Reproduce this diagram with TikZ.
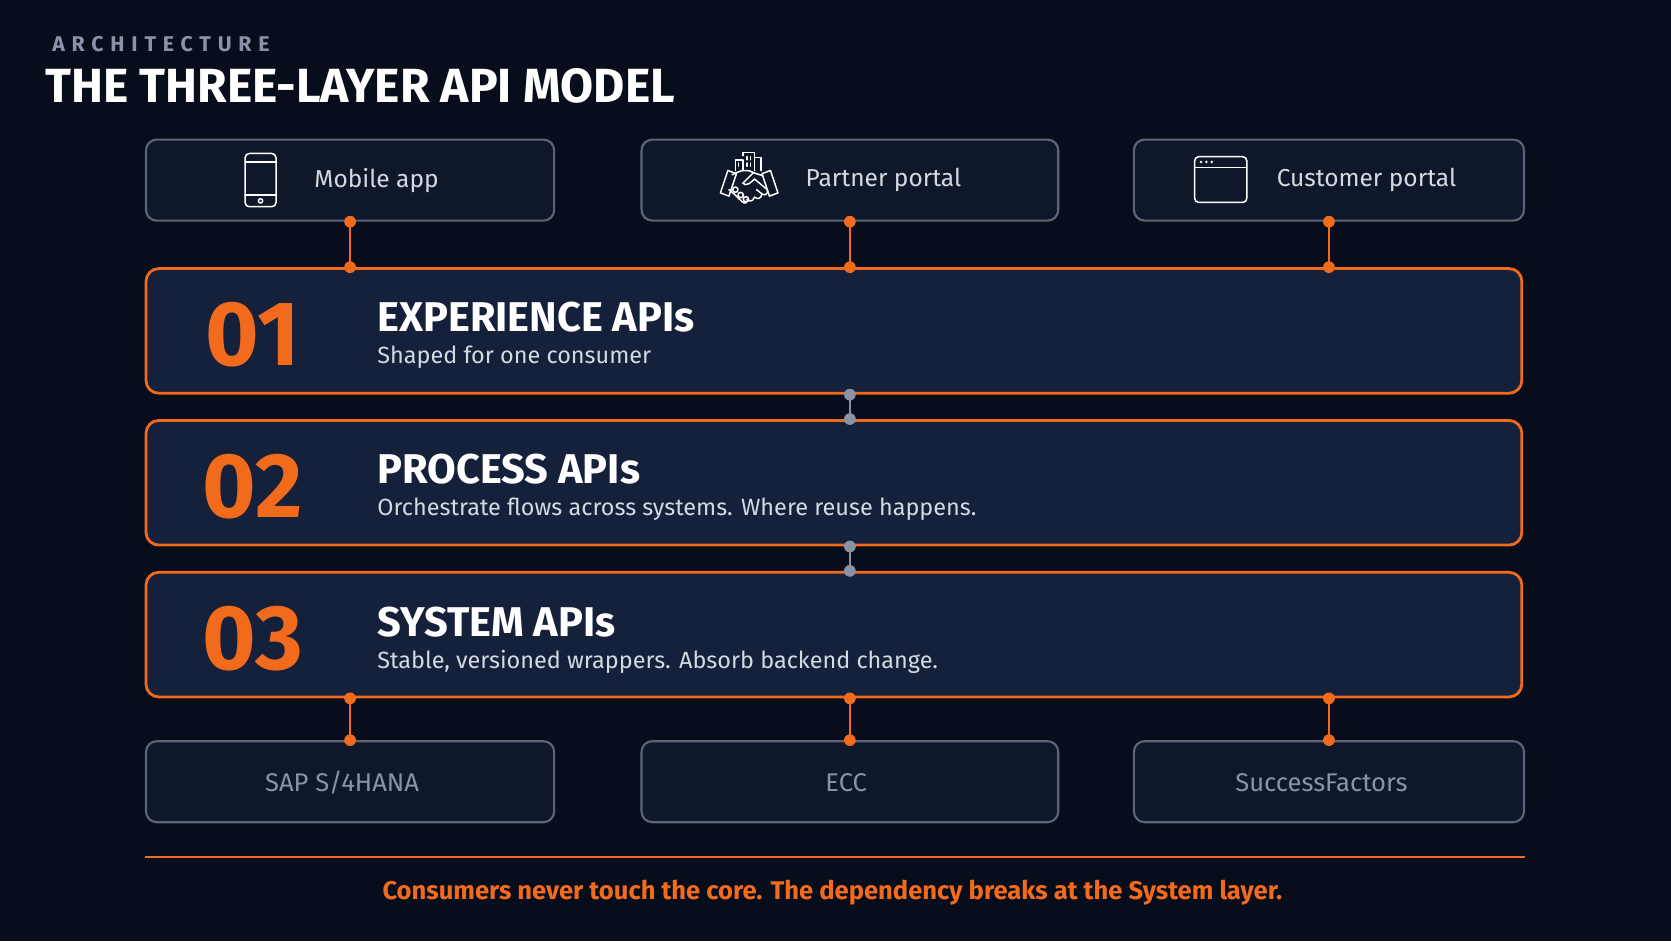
\documentclass[tikz,border=0pt]{standalone}
\usepackage{fontspec}
\setmainfont{Fira Sans}
\usetikzlibrary{calc}
\definecolor{bgc}{HTML}{070D1A}
\definecolor{boxf}{HTML}{0F182A}
\definecolor{layf}{HTML}{15203A}
\definecolor{bord}{HTML}{5C6577}
\definecolor{org}{HTML}{F26A1B}
\definecolor{gdot}{HTML}{8A93A3}
\definecolor{txtg}{HTML}{D5DAE2}
\definecolor{subg}{HTML}{8A93A8}
\tikzset{
 src/.style={draw=bord,line width=1pt,fill=boxf,rounded corners=5pt,minimum height=38pt,inner sep=0},
 layer/.style={draw=org,line width=1.3pt,fill=layf,rounded corners=6pt,minimum width=645.5pt,minimum height=58.5pt,inner sep=0},
 lbl/.style={text=txtg,font=\fontsize{11.5}{13}\selectfont,anchor=west},
 blbl/.style={text=subg,font=\fontsize{12}{14}\selectfont},
 num/.style={text=org,font=\bfseries\fontsize{43}{46}\selectfont,anchor=base},
 ltitle/.style={text=white,font=\bfseries\fontsize{19.5}{22}\selectfont,anchor=base west},
 lsub/.style={text=txtg,font=\fontsize{11}{13}\selectfont,anchor=base west},
 oconn/.style={draw=org,line width=1.2pt},
 gconn/.style={draw=gdot,line width=1.2pt},
 odot/.style={fill=org},
 gd/.style={fill=gdot},
 icon/.style={draw=white,line width=0.7pt,line join=round,line cap=round}
}
\begin{document}
\begin{tikzpicture}[x=0.5pt,y=-0.5pt]
\fill[bgc] (0,0) rectangle (1568,883);
\useasboundingbox (0,0) rectangle (1568,883);
\node[anchor=base west,text=subg,font=\bfseries\fontsize{10}{12}\selectfont\addfontfeature{LetterSpace=32}] (arch) at (42,48) {ARCHITECTURE};
\node[anchor=base west,text=white,font=\bfseries\fontsize{22.5}{26}\selectfont,inner sep=0] (title) at (42,96) {THE THREE-LAYER API MODEL};
% source boxes
\node[src,minimum width=191.5pt] (b1) at (328.5,169) {};
\node[src,minimum width=195.5pt] (b2) at (797.5,169) {};
\node[src,minimum width=183pt] (b3) at (1247,169) {};
\node[lbl] (t1) at (288,169) {Mobile app};
\node[lbl] (t2) at (749,169) {Partner portal};
\node[lbl] (t3) at (1191,169) {Customer portal};
% phone icon
\draw[icon,rounded corners=2pt] (230,144) rectangle (259,194);
\draw[icon] (230,152)--(259,152) (230,183)--(259,183);
\draw[icon] (244.5,188.5) circle (2);
% browser icon
\draw[icon,rounded corners=2pt] (1121,147) rectangle (1170,190);
\draw[icon] (1121,157)--(1170,157);
\foreach \x in {1127,1132,1137}{\fill[white] (\x,152) circle (1.3);}
% handshake icon
\draw[icon] (690,160)--(690,150)--(697,150)--(697,160) (697,146)--(697,143)--(708,143)--(708,160) (708,148)--(714,148)--(714,160);
\draw[icon] (693,153)--(693,156) (701,147)--(701,150) (704,147)--(704,150) (701,153)--(701,156) (704,153)--(704,156);
\draw[icon] (676,181)--(683,160)--(691,163)--(684,184)--cycle;
\draw[icon] (730,181)--(723,160)--(715,163)--(722,184)--cycle;
\draw[icon] (687,164) .. controls (695,160) and (700,158) .. (707,162)--(716,165);
\draw[icon] (707,162)--(697,172) .. controls (700,175) and (704,172) .. (708,168)--(720,178);
\draw[icon] (720,178) .. controls (721,182) and (718,184) .. (715,182)--(710,178);
\draw[icon] (715,182) .. controls (714,187) and (711,187) .. (708,185);
\draw[icon] (708,185) .. controls (706,190) and (703,189) .. (701,187);
\draw[icon] (684,178) .. controls (688,181) and (692,185) .. (696,189) .. controls (699,192) and (702,190) .. (701,187);
\draw[icon] (690,178) circle (2.5) (695,183) circle (2.5) (700,187) circle (2.5);
% layers
\node[layer] (L1) at (782.5,310.5) {};
\node[layer] (L2) at (782.5,453) {};
\node[layer] (L3) at (782.5,595.5) {};
\node[num] (n1) at (237,343) {01};
\node[ltitle] (h1) at (347,311) {EXPERIENCE APIs};
\node[lsub] (s1) at (347,341) {Shaped for one consumer};
\node[num] (n2) at (237,486) {02};
\node[ltitle] (h2) at (347,454) {PROCESS APIs};
\node[lsub] (s2) at (347,484) {Orchestrate flows across systems. Where reuse happens.};
\node[num] (n3) at (237,628) {03};
\node[ltitle] (h3) at (347,597) {SYSTEM APIs};
\node[lsub] (s3) at (347,627) {Stable, versioned wrappers. Absorb backend change.};
% backend boxes
\node[src,minimum width=191.5pt] (d1) at (328.5,733.5) {};
\node[src,minimum width=195.5pt] (d2) at (797.5,733.5) {};
\node[src,minimum width=183pt] (d3) at (1247,733.5) {};
\node[blbl] (e1) at (321,734) {SAP S/4HANA};
\node[blbl] (e2) at (794,734) {ECC};
\node[blbl] (e3) at (1240,734) {SuccessFactors};
% connectors
\foreach \b/\d in {b1/d1,b2/d2,b3/d3}{
  \draw[oconn] (\b.south) -- (\b.south |- L1.north);
  \fill[odot] (\b.south) circle (5.5); \fill[odot] (\b.south |- L1.north) circle (5.5);
  \draw[oconn] (\d.north |- L3.south) -- (\d.north);
  \fill[odot] (\d.north |- L3.south) circle (5.5); \fill[odot] (\d.north) circle (5.5);
}
\draw[gconn] (b2.south |- L1.south) -- (b2.south |- L2.north);
\fill[gd] (b2.south |- L1.south) circle (5.5); \fill[gd] (b2.south |- L2.north) circle (5.5);
\draw[gconn] (b2.south |- L2.south) -- (b2.south |- L3.north);
\fill[gd] (b2.south |- L2.south) circle (5.5); \fill[gd] (b2.south |- L3.north) circle (5.5);
% footer
\coordinate (fl) at (136,804); \coordinate (fr) at (1431,804);
\draw[org,line width=1pt] (fl) -- (fr);
\node[text=org,font=\bfseries\fontsize{12}{14}\selectfont] (foot) at (781,838) {Consumers never touch the core. The dependency breaks at the System layer.};
\end{tikzpicture}
\end{document}
